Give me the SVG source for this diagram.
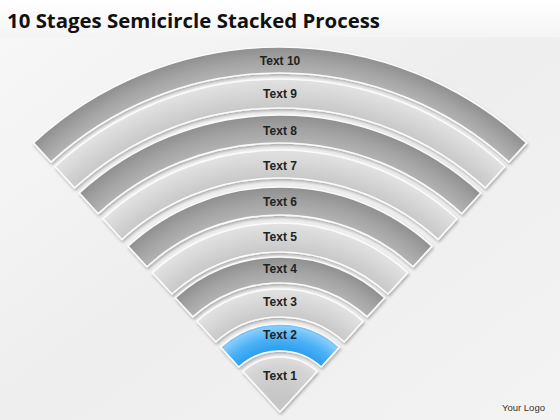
<svg xmlns="http://www.w3.org/2000/svg" width="560" height="420" viewBox="0 0 560 420">
  <style>
    .band { stroke: #fbfbfb; stroke-width: 1.6; stroke-linejoin: round; filter: url(#shadow); }
    .lbl { font-family: "Liberation Sans", Arial, sans-serif; font-size: 12px; font-weight: bold; fill: #222; text-anchor: middle; }
    .title { font-family: "Open Sans", "Liberation Sans", Arial, sans-serif; font-size: 20px; font-weight: bold; fill: #111; }
    .logo { font-family: "Liberation Sans", Arial, sans-serif; font-size: 9.5px; fill: #333; }
  </style>
  <defs>
    <linearGradient id="bg" x1="0" y1="0" x2="1" y2="1">
      <stop offset="0" stop-color="#f8f8f8"/>
      <stop offset="0.5" stop-color="#eeeeee"/>
      <stop offset="1" stop-color="#f3f3f3"/>
    </linearGradient>
    <linearGradient id="titleLine" x1="0" y1="0" x2="0" y2="1">
      <stop offset="0" stop-color="#ffffff"/>
      <stop offset="1" stop-color="#f4f4f4"/>
    </linearGradient>
    <filter id="shadow" x="-10%" y="-10%" width="120%" height="130%">
      <feDropShadow dx="1" dy="2" stdDeviation="1.4" flood-color="#000" flood-opacity="0.28"/>
    </filter>
    <radialGradient id="g1" gradientUnits="userSpaceOnUse" cx="280" cy="412" r="55">
      <stop offset="0.3" stop-color="#c6c6c6"/>
      <stop offset="0.85" stop-color="#d4d4d4"/>
      <stop offset="1" stop-color="#dedede"/>
    </radialGradient>
    <radialGradient id="g2" gradientUnits="userSpaceOnUse" cx="280" cy="412" r="88">
      <stop offset="0.693" stop-color="#2a9ef0"/>
      <stop offset="0.84" stop-color="#4cb1f6"/>
      <stop offset="0.97" stop-color="#88cdfa"/>
      <stop offset="1" stop-color="#62b8f2"/>
    </radialGradient>
    <radialGradient id="g3" gradientUnits="userSpaceOnUse" cx="280" cy="412" r="123">
      <stop offset="0.772" stop-color="#c8c8c8"/>
      <stop offset="0.886" stop-color="#d5d5d5"/>
      <stop offset="1" stop-color="#e2e2e2"/>
    </radialGradient>
    <radialGradient id="g4" gradientUnits="userSpaceOnUse" cx="280" cy="412" r="155">
      <stop offset="0.832" stop-color="#b3b3b3"/>
      <stop offset="0.916" stop-color="#a3a3a3"/>
      <stop offset="1" stop-color="#8f8f8f"/>
    </radialGradient>
    <radialGradient id="g5" gradientUnits="userSpaceOnUse" cx="280" cy="412" r="189">
      <stop offset="0.847" stop-color="#c8c8c8"/>
      <stop offset="0.923" stop-color="#d5d5d5"/>
      <stop offset="1" stop-color="#e2e2e2"/>
    </radialGradient>
    <radialGradient id="g6" gradientUnits="userSpaceOnUse" cx="280" cy="412" r="225">
      <stop offset="0.876" stop-color="#b3b3b3"/>
      <stop offset="0.938" stop-color="#a3a3a3"/>
      <stop offset="1" stop-color="#8f8f8f"/>
    </radialGradient>
    <radialGradient id="g7" gradientUnits="userSpaceOnUse" cx="280" cy="412" r="262">
      <stop offset="0.893" stop-color="#c8c8c8"/>
      <stop offset="0.947" stop-color="#d5d5d5"/>
      <stop offset="1" stop-color="#e2e2e2"/>
    </radialGradient>
    <radialGradient id="g8" gradientUnits="userSpaceOnUse" cx="280" cy="412" r="297">
      <stop offset="0.906" stop-color="#b3b3b3"/>
      <stop offset="0.953" stop-color="#a3a3a3"/>
      <stop offset="1" stop-color="#8f8f8f"/>
    </radialGradient>
    <radialGradient id="g9" gradientUnits="userSpaceOnUse" cx="280" cy="412" r="333">
      <stop offset="0.913" stop-color="#c8c8c8"/>
      <stop offset="0.957" stop-color="#d5d5d5"/>
      <stop offset="1" stop-color="#e2e2e2"/>
    </radialGradient>
    <radialGradient id="g10" gradientUnits="userSpaceOnUse" cx="280" cy="412" r="365">
      <stop offset="0.929" stop-color="#b3b3b3"/>
      <stop offset="0.964" stop-color="#a3a3a3"/>
      <stop offset="1" stop-color="#8f8f8f"/>
    </radialGradient>
  </defs>

  <rect x="0" y="0" width="560" height="420" fill="url(#bg)"/>
  <rect x="0" y="0" width="560" height="37" fill="url(#titleLine)"/>
  <text class="title" x="7" y="28" textLength="373" lengthAdjust="spacingAndGlyphs">10 Stages Semicircle Stacked Process</text>

  <g id="stage10">
    <path class="band" fill="url(#g10)" d="M 33.41 142.89 A 365 365 0 0 1 526.59 142.89 L 509.03 162.06 A 339 339 0 0 0 50.97 162.06 Z"/>
    <text class="lbl" x="280" y="64.5">Text 10</text>
  </g>
  <g id="stage9">
    <path class="band" fill="url(#g9)" d="M 55.03 166.48 A 333 333 0 0 1 504.97 166.48 L 485.38 187.86 A 304 304 0 0 0 74.62 187.86 Z"/>
    <text class="lbl" x="280" y="98">Text 9</text>
  </g>
  <g id="stage8">
    <path class="band" fill="url(#g8)" d="M 79.35 193.02 A 297 297 0 0 1 480.65 193.02 L 461.74 213.67 A 269 269 0 0 0 98.26 213.67 Z"/>
    <text class="lbl" x="280" y="134.5">Text 8</text>
  </g>
  <g id="stage7">
    <path class="band" fill="url(#g7)" d="M 102.99 218.83 A 262 262 0 0 1 457.01 218.83 L 438.09 239.47 A 234 234 0 0 0 121.91 239.47 Z"/>
    <text class="lbl" x="280" y="170">Text 7</text>
  </g>
  <g id="stage6">
    <path class="band" fill="url(#g6)" d="M 127.99 246.11 A 225 225 0 0 1 432.01 246.11 L 413.09 266.75 A 197 197 0 0 0 146.91 266.75 Z"/>
    <text class="lbl" x="280" y="206">Text 6</text>
  </g>
  <g id="stage5">
    <path class="band" fill="url(#g5)" d="M 152.31 272.65 A 189 189 0 0 1 407.69 272.65 L 388.10 294.03 A 160 160 0 0 0 171.90 294.03 Z"/>
    <text class="lbl" x="280" y="241">Text 5</text>
  </g>
  <g id="stage4">
    <path class="band" fill="url(#g4)" d="M 175.28 297.72 A 155 155 0 0 1 384.72 297.72 L 367.15 316.89 A 129 129 0 0 0 192.85 316.89 Z"/>
    <text class="lbl" x="280" y="273">Text 4</text>
  </g>
  <g id="stage3">
    <path class="band" fill="url(#g3)" d="M 196.90 321.31 A 123 123 0 0 1 363.10 321.31 L 344.18 341.96 A 95 95 0 0 0 215.82 341.96 Z"/>
    <text class="lbl" x="280" y="306">Text 3</text>
  </g>
  <g id="stage2">
    <path class="band" fill="url(#g2)" d="M 220.55 347.12 A 88 88 0 0 1 339.45 347.12 L 321.21 367.02 A 61 61 0 0 0 238.79 367.02 Z"/>
    <text class="lbl" x="280" y="339">Text 2</text>
  </g>
  <g id="stage1">
    <path class="band" fill="url(#g1)" d="M 280 412 L 242.84 371.45 A 55 55 0 0 1 317.16 371.45 Z"/>
    <text class="lbl" x="280" y="380">Text 1</text>
  </g>

  <text class="logo" x="502" y="410.5">Your Logo</text>
</svg>
